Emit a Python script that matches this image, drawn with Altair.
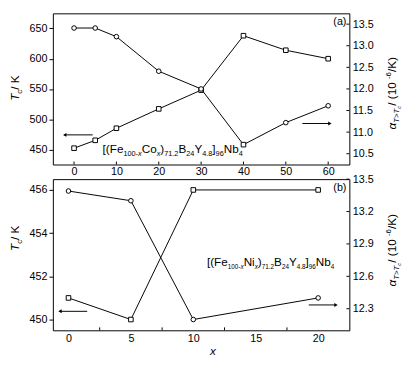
import altair as alt
import pandas as pd

# ---------------- data ----------------
# panel (a): [(Fe100-xCox)71.2B24Y4.8]96Nb4
x_co = [0, 5, 10, 20, 30, 40, 50, 60]
tc_co = [452, 465, 485, 517, 548, 638, 614, 600]
tc_co_shape = ["square"] * 8
alpha_co = [13.41, 13.41, 13.21, 12.41, 12.0, 10.71, 11.22, 11.61]
alpha_co_shape = ["circle", "circle", "circle", "circle", "circle", "square", "circle", "circle"]

# panel (b): [(Fe100-xNix)71.2B24Y4.8]96Nb4
x_ni = [0, 5, 10, 20]
tc_ni = [451, 450, 456, 456]
tc_ni_shape = ["square"] * 4
alpha_ni = [13.39, 13.30, 12.2, 12.4]
alpha_ni_shape = ["circle"] * 4

# axis ticks
a_xticks = [0, 10, 20, 30, 40, 50, 60]
a_lticks = [450, 500, 550, 600, 650]
a_rticks = [10.5, 11.0, 11.5, 12.0, 12.5, 13.0, 13.5]
b_xticks = [0, 5, 10, 15, 20]
b_xminor = [2.5, 7.5, 12.5, 17.5]
b_lticks = [450, 452, 454, 456]
b_rticks = [12.3, 12.6, 12.9, 13.2, 13.5]

FONT = "Liberation Sans"
W, H = 304, 155

EM = {' ': 0.278, '[': 0.278, ']': 0.278, '(': 0.333, ')': 0.333, 'F': 0.611, 'e': 0.556,
      'C': 0.722, 'o': 0.556, 'N': 0.722, 'i': 0.222, 'B': 0.667, 'Y': 0.667, 'b': 0.556,
      'x': 0.5, '-': 0.333, '.': 0.278, 'T': 0.611, 'K': 0.667, '/': 0.278, '>': 0.584,
      'c': 0.5, 'α': 0.58}


def tw(s, size):
    return sum(EM.get(ch, 0.556) for ch in s) * size


ONE = pd.DataFrame({"a": [0]})


def txt(text, size, x, y, italic=False, angle=None, align="left", baseline="alphabetic"):
    kw = dict(text=text, fontSize=size, font=FONT, color="black", align=align, baseline=baseline,
              fontStyle="italic" if italic else "normal")
    if angle is not None:
        kw["angle"] = angle
    return alt.Chart(ONE).mark_text(**kw).encode(x=alt.value(x), y=alt.value(y))


def rich_h(pieces, x0, y0):
    out = []
    x = x0
    for t, s, dy, it in pieces:
        out.append(txt(t, s, x, y0 + dy, it))
        x += tw(t, s)
    return out


def rich_v(pieces, xb, yc):
    out = []
    total = sum(tw(t, s) for t, s, _, _ in pieces)
    y = yc + total / 2
    for t, s, dx, it in pieces:
        out.append(txt(t, s, xb + dx, y, it, angle=270))
        y -= tw(t, s)
    return out


def formula(mid, sub):
    S = 3.5
    return [("[(Fe", 12, 0, False), ("100-", sub, S, False), ("x", sub, S, True),
            (mid, 12, 0, False), ("x", sub, S, True), (")", 12, 0, False),
            ("71.2", sub, S, False), ("B", 12, 0, False), ("24", sub, S, False),
            ("Y", 12, 0, False), ("4.8", sub, S, False), ("]", 12, 0, False),
            ("96", sub, S, False), ("Nb", 12, 0, False), ("4", sub, S, False)]


left_title = [("T", 12, 0, True), ("c", 8, 3, False), (" / K", 12, 0, False)]
right_title = [("α", 12, 0, True), ("T>T", 8, 3, True), ("c", 6, 5, True),
               (" / (10", 12, 0, False), ("-6", 8, -5, False), ("/K)", 12, 0, False)]


def panel(x, tc, tcs, al, als, xdom, xticks, xinner, xpad, ldom, lticks, rdom, rticks, rfmt,
          arrowL, arrowR, label, form_layers, ltitle_y, rtitle_y, extra=()):
    df = pd.DataFrame({"x": x, "tc": tc, "tcs": tcs, "al": al, "als": als})
    xs = alt.Scale(domain=xdom, nice=False, zero=False)
    ls = alt.Scale(domain=ldom, nice=False, zero=False)
    rs = alt.Scale(domain=rdom, nice=False, zero=False)
    xaxis = alt.Axis(values=xticks, tickSize=0, labelPadding=xpad, domain=False, grid=False,
                     labelFont=FONT, labelFontSize=11, labelColor="black", title=None)
    laxis = alt.Axis(values=lticks, tickSize=4, tickColor="black", labelPadding=2, domain=False,
                     grid=False, labelFont=FONT, labelFontSize=11, labelColor="black", title=None)
    raxis = alt.Axis(values=rticks, orient="right", tickSize=0, labelPadding=3, domain=False,
                     grid=False, format=rfmt, labelFont=FONT, labelFontSize=11,
                     labelColor="black", title=None)

    def X(f):
        return alt.X(f, scale=xs, axis=xaxis)

    def YL(f):
        return alt.Y(f, scale=ls, axis=laxis)

    def YR(f):
        return alt.Y(f, scale=rs, axis=raxis)

    base = alt.Chart(df)
    tc_line = base.mark_line(color="black", strokeWidth=1).encode(x=X("x:Q"), y=YL("tc:Q"))
    tc_pts = base.mark_point(filled=True, fill="white", stroke="black", strokeWidth=1,
                             size=22, opacity=1).encode(
        x=X("x:Q"), y=YL("tc:Q"), shape=alt.Shape("tcs:N", scale=None))
    al_line = base.mark_line(color="black", strokeWidth=1).encode(x=X("x:Q"), y=YR("al:Q"))
    al_pts = base.mark_point(filled=True, fill="white", stroke="black", strokeWidth=1,
                             size=22, opacity=1).encode(
        x=X("x:Q"), y=YR("al:Q"), shape=alt.Shape("als:N", scale=None))

    # arrows
    adL = pd.DataFrame({"x1": [arrowL[0]], "x2": [arrowL[1]], "y": [arrowL[2]]})
    arrL = alt.Chart(adL).mark_rule(color="black", strokeWidth=1).encode(
        x=X("x1:Q"), x2="x2:Q", y=YL("y:Q"))
    headL = alt.Chart(adL).mark_point(shape="triangle-left", filled=True, color="black",
                                      size=16, opacity=1).encode(x=X("x2:Q"), y=YL("y:Q"))
    adR = pd.DataFrame({"x1": [arrowR[0]], "x2": [arrowR[1]], "y": [arrowR[2]]})
    arrR = alt.Chart(adR).mark_rule(color="black", strokeWidth=1).encode(
        x=X("x1:Q"), x2="x2:Q", y=YR("y:Q"))
    headR = alt.Chart(adR).mark_point(shape="triangle-right", filled=True, color="black",
                                      size=16, opacity=1).encode(x=X("x2:Q"), y=YR("y:Q"))

    # inner ticks
    xt = alt.Chart(pd.DataFrame({"v": xinner})).mark_rule(color="black", strokeWidth=1).encode(
        x=X("v:Q"), y=alt.value(H), y2=alt.value(H - 3))
    rt = alt.Chart(pd.DataFrame({"v": rticks})).mark_rule(color="black", strokeWidth=1).encode(
        y=YR("v:Q"), x=alt.value(W - 3), x2=alt.value(W))

    annos = []
    annos += rich_v(left_title, -35, ltitle_y)
    annos += rich_v(right_title, 352, rtitle_y)
    annos.append(txt(label, 11, 301, 9, align="right", baseline="middle"))
    annos += form_layers
    annos += list(extra)

    left = alt.layer(tc_line, tc_pts, arrL, headL, xt, *annos)
    right = alt.layer(al_line, al_pts, arrR, headR, rt)
    return alt.layer(left, right).resolve_scale(y="independent").properties(width=W, height=H)


top = panel(x_co, tc_co, tc_co_shape, alpha_co, alpha_co_shape,
            [-5, 65], a_xticks, a_xticks, 1, [425, 675], a_lticks, [10.25, 13.75], a_rticks, ".1f",
            (4.4, -2.2, 474), (53.9, 60.4, 11.2), "(a)",
            rich_h(formula("Co", 7.5), 51, 143), 75, 82)

bottom = panel(x_ni, tc_ni, tc_ni_shape, alpha_ni, alpha_ni_shape,
               [-1.25, 22.5], b_xticks, b_xminor, 2, [449.5, 456.5], b_lticks, [12.1, 13.5], b_rticks, ".1f",
               (1.5, -0.68, 450.38), (19.25, 21.43, 12.335), "(b)",
               rich_h(formula("Ni", 6.5), 158, 89), 59, 73,
               extra=[txt("x", 12, 164, 176, italic=True, align="center", baseline="middle")])

chart = alt.vconcat(top, bottom, spacing=15, bounds="flush").properties(
    padding={"left": 0, "top": 0, "right": 0, "bottom": 0}
).configure_view(stroke="black", strokeWidth=1)

chart.save("out.html", embed_options={"renderer": "svg", "actions": False})
